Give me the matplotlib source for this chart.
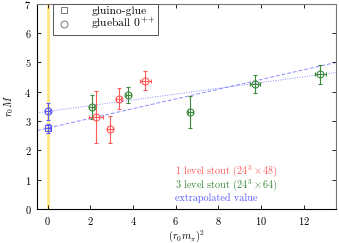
import numpy as np
import matplotlib
matplotlib.use("Agg")
import matplotlib.pyplot as plt
from matplotlib.lines import Line2D

plt.rcParams['font.family'] = ['cmr10', 'DejaVu Serif']
plt.rcParams['mathtext.fontset'] = 'cm'
plt.rcParams['axes.unicode_minus'] = False
plt.rcParams['axes.formatter.use_mathtext'] = True

# 1 level stout (24^3 x 48), glueball 0++
red_x = [2.25, 2.92, 3.32, 4.58]
red_y = [3.14, 2.72, 3.77, 4.38]
red_yerr = [0.9, 0.47, 0.37, 0.33]
red_xerr = [0.33, 0.12, 0.12, 0.26]

# 3 level stout (24^3 x 64), glueball 0++
green_x = [2.07, 3.78, 6.67, 9.71, 12.77]
green_y = [3.48, 3.9, 3.31, 4.27, 4.6]
green_yerr = [0.4, 0.28, 0.53, 0.31, 0.32]
green_xerr = [0.12, 0.12, 0.12, 0.22, 0.25]

# extrapolated values at m_pi = 0
glue_extra = (3.33, 0.3)
gg_extra = (2.76, 0.15)

# linear fits: intercept, slope
gg_fit = (2.76, 0.166)
glue_fit = (3.33, 0.0985)

red = '#ff5a5a'
green = '#3b8a3b'
blue = '#5a5aff'

fig = plt.figure(figsize=(3.39, 2.43), dpi=100)
ax = fig.add_axes([0.109, 0.14, 0.882, 0.844])

ax.axvline(0, color='#ffe680', lw=2, zorder=0)

xs = np.array([-0.5, 13.5])
ax.plot(xs, gg_fit[0] + gg_fit[1] * xs, color=blue, lw=0.7, alpha=0.7,
        ls=(0, (4, 2)), zorder=1)
ax.plot(xs, glue_fit[0] + glue_fit[1] * xs, color=blue, lw=0.7, alpha=0.7,
        ls=(0, (1, 1.5)), zorder=1)

ebkw = dict(fmt='o', mfc='none', ms=5, mew=0.8, elinewidth=0.8,
            capsize=1.5, capthick=0.8)
ax.errorbar(red_x, red_y, yerr=red_yerr, xerr=red_xerr, color=red, **ebkw)
ax.errorbar(green_x, green_y, yerr=green_yerr, xerr=green_xerr, color=green, **ebkw)
ax.errorbar([0], [glue_extra[0]], yerr=[glue_extra[1]], xerr=[0.1], color=blue, **ebkw)
ebkw['fmt'] = 's'
ax.errorbar([0], [gg_extra[0]], yerr=[gg_extra[1]], xerr=[0.1], color=blue, **ebkw)

ax.set_xlim(-0.5, 13.5)
ax.set_ylim(0, 7)
ax.set_xticks([0, 2, 4, 6, 8, 10, 12])
ax.set_yticks([0, 1, 2, 3, 4, 5, 6, 7])
ax.tick_params(direction='in', length=3, width=0.6, labelsize=7.5,
               top=True, right=True, pad=4)
ax.tick_params(axis='y', labelright=False)
for s in ['left', 'bottom']:
    ax.spines[s].set_color('black')
    ax.spines[s].set_linewidth(0.8)
for s in ['top', 'right']:
    ax.spines[s].set_color('#777777')
    ax.spines[s].set_linewidth(0.8)

ax.set_xlabel(r'$(r_0 m_\pi)^2$', fontsize=7.5, labelpad=1)
ax.set_ylabel(r'$r_0 M$', fontsize=7.5, labelpad=6)

handles = [Line2D([], [], ls='none', marker='s', mfc='none', mec='#777777', ms=5, mew=0.7),
           Line2D([], [], ls='none', marker='o', mfc='none', mec='#777777', ms=5, mew=0.7)]
leg = ax.legend(handles, ['gluino-glue', r'glueball $0^{++}$'], loc='upper left',
                bbox_to_anchor=(0.055, 1.0), borderaxespad=0, fancybox=False,
                edgecolor='#555555', framealpha=1, fontsize=8.3, handlelength=1.4,
                handletextpad=1.7, borderpad=0.2, labelspacing=0.0)
leg.get_frame().set_linewidth(0.7)

ax.text(5.95, 1.2, r'1 level stout $(24^3\times 48)$', color=red, fontsize=7.3)
ax.text(5.95, 0.72, r'3 level stout $(24^3\times 64)$', color=green, fontsize=7.3)
ax.text(5.95, 0.26, 'extrapolated value', color=blue, fontsize=7.3)

fig.savefig('out.png', dpi=100)
